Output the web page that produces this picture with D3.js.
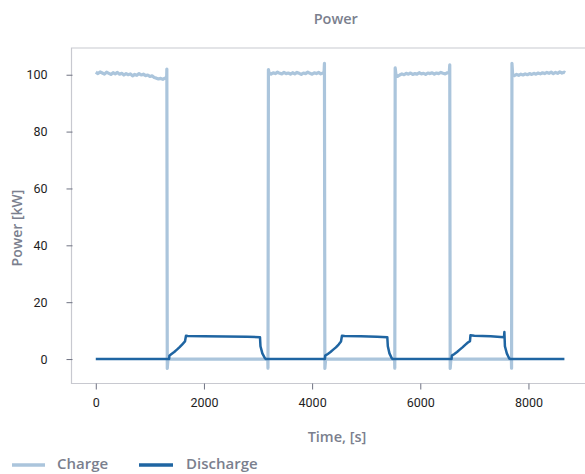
<!DOCTYPE html>
<html>
<head>
<meta charset="utf-8">
<script src="https://cdn.jsdelivr.net/npm/d3@7"></script>
<style>
  html, body { margin: 0; padding: 0; background: #fff; }
  svg { display: block; }
</style>
</head>
<body>
<svg id="chart" width="585" height="474"></svg>
<script>
// Charge power, kW, logged over time, s
const chargeTime = [
  0, 40, 80, 120, 160, 200, 240, 280, 320, 360, 400, 440, 480, 520, 560, 600, 640, 680, 720, 760,
  800, 840, 880, 920, 960, 1000, 1040, 1080, 1120, 1160, 1200, 1240, 1280, 1310,
  1314, 1322, 1335, 3180,
  3184, 3192, 3205, 3240, 3280, 3320, 3360, 3400, 3440, 3480, 3520, 3560, 3600, 3640, 3680, 3720,
  3760, 3800, 3840, 3880, 3920, 3960, 4000, 4040, 4080, 4120, 4160, 4200, 4220,
  4228, 4236, 4250, 5525,
  5529, 5536, 5550, 5580, 5620, 5660, 5700, 5740, 5780, 5820, 5860, 5900, 5940, 5980, 6020, 6060,
  6100, 6140, 6180, 6220, 6260, 6300, 6340, 6380, 6420, 6460, 6500, 6535,
  6545, 6553, 6567, 7684,
  7688, 7695, 7708, 7740, 7780, 7820, 7860, 7900, 7940, 7980, 8020, 8060, 8100, 8140, 8180, 8220,
  8260, 8300, 8340, 8380, 8420, 8460, 8500, 8540, 8580, 8620, 8660, 8680
];
const chargePower = [
  100.9, 100.4, 101.0, 100.6, 100.2, 100.9, 100.5, 100.1, 100.7, 100.3, 100.8, 100.2, 100.5, 99.9, 100.4, 100.0, 100.3, 99.6, 100.1, 99.8,
  100.4, 99.9, 100.2, 99.7, 99.9, 99.4, 99.6, 99.0, 98.8, 98.5, 98.7, 98.4, 98.8, 98.6,
  102.0, -3.3, 0, 0,
  -3.2, 101.8, 100.6, 100.2, 100.7, 100.4, 100.9, 100.5, 100.3, 100.8, 100.4, 100.6, 100.2, 100.7, 100.3, 100.8,
  100.5, 100.1, 100.6, 100.4, 100.9, 100.5, 100.2, 100.7, 100.4, 100.8, 100.3, 100.6, 100.5,
  104.0, -3.3, 0, 0,
  -3.2, 102.4, 100.1, 99.4, 99.9, 100.3, 100.0, 100.5, 100.2, 100.6, 100.1, 100.4, 100.2, 100.7, 100.3, 100.5,
  100.1, 100.6, 100.4, 100.7, 100.2, 100.6, 100.4, 100.8, 100.5, 100.3, 100.7, 100.5,
  103.5, -3.3, 0, 0,
  -3.2, 104.0, 100.0, 99.7, 100.1, 99.8, 100.2, 99.9, 100.3, 100.0, 100.4, 100.1, 100.5, 100.2, 100.6, 100.3,
  100.7, 100.4, 100.8, 100.5, 100.9, 100.4, 100.8, 100.5, 101.0, 100.6, 100.9, 100.7
];

// Discharge power, kW, logged over time, s
const dischargeTime = [
  0, 1355, 1362, 1400, 1450, 1500, 1550, 1600, 1649, 1668, 1700, 2000, 2400, 2800, 3036,
  3045, 3080, 3130, 3150, 4236,
  4242, 4290, 4340, 4390, 4440, 4490, 4534, 4552, 4600, 4900, 5200, 5390,
  5400, 5430, 5475, 5500, 6578,
  6584, 6630, 6680, 6730, 6780, 6830, 6880, 6919, 6928, 7000, 7300, 7548, 7555,
  7565, 7600, 7645, 7672, 8665
];
const dischargePower = [
  0, 0, 1.2, 1.8, 2.5, 3.3, 4.2, 5.2, 6.2, 8.2, 8.1, 8.0, 7.9, 7.8, 7.7,
  4.5, 2.0, 0.2, 0, 0,
  1.2, 1.8, 2.5, 3.3, 4.1, 5.1, 6.2, 8.2, 8.1, 8.0, 7.8, 7.7,
  4.5, 2.0, 0.2, 0, 0,
  1.2, 1.8, 2.5, 3.3, 4.1, 5.0, 5.8, 6.3, 8.4, 8.2, 8.0, 7.7, 9.5,
  4.5, 2.0, 0.2, 0, 0
];

const yTicks = [0, 20, 40, 60, 80, 100];
const xTicks = [0, 2000, 4000, 6000, 8000];

const seriesNames = ["Charge", "Discharge"];
const seriesColors = ["#abc5dc", "#1f65a2"];

const svg = d3.select("#chart");
const frame = { left: 71.5, right: 600, top: 48, bottom: 383.5 };

const x = d3.scaleLinear().domain([-449, 9323]).range([frame.left, frame.right]);
const y = d3.scaleLinear().domain([-8.6, 109.4]).range([frame.bottom, frame.top]);

const gray = "#7b7f8e";
const frameColor = "#c8c9d0";

// Plot frame (top, left, bottom edges)
svg.append("path")
  .attr("d", `M${frame.right},${frame.top}H${frame.left}V${frame.bottom}H${frame.right}`)
  .attr("fill", "none").attr("stroke", frameColor).attr("stroke-width", 1.2);

// Axes
const xAxis = svg.append("g")
  .attr("transform", `translate(0,${frame.bottom})`)
  .call(d3.axisBottom(x).tickValues(xTicks).tickFormat(d3.format("d")).tickSize(6).tickPadding(9));
const yAxis = svg.append("g")
  .attr("transform", `translate(${frame.left - 5},0)`)
  .call(d3.axisLeft(y).tickValues(yTicks).tickFormat(d3.format("d")).tickSize(6).tickPadding(13));
yAxis.selectAll(".tick line").attr("transform", "translate(6,0)");

[xAxis, yAxis].forEach(g => {
  g.select(".domain").remove();
  g.selectAll(".tick line").attr("stroke", "#6f7282").attr("stroke-width", 1);
  g.selectAll(".tick text")
    .attr("fill", "#1e1e1e")
    .style("font-family", "Roboto, 'DejaVu Sans', sans-serif")
    .style("font-size", "12.5px");
});

// Series lines
const clipId = "plot-clip";
svg.append("clipPath").attr("id", clipId)
  .append("rect")
  .attr("x", frame.left).attr("y", frame.top)
  .attr("width", frame.right - frame.left).attr("height", frame.bottom - frame.top);

const line = d3.line().x(d => x(d[0])).y(d => y(d[1]));
const chargeData = chargeTime.map((t, i) => [t, chargePower[i]]);
const dischargeData = dischargeTime.map((t, i) => [t, dischargePower[i]]);

const plot = svg.append("g").attr("clip-path", `url(#${clipId})`);
plot.append("path").datum(chargeData)
  .attr("d", line).attr("fill", "none")
  .attr("stroke", seriesColors[0]).attr("stroke-width", 3.2)
  .attr("stroke-linejoin", "round");
plot.append("path").datum(dischargeData)
  .attr("d", line).attr("fill", "none")
  .attr("stroke", seriesColors[1]).attr("stroke-width", 2.5)
  .attr("stroke-linejoin", "round");

// Titles
const labelFont = "'Open Sans', 'Noto Sans', sans-serif";
svg.append("text")
  .attr("x", (frame.left + frame.right) / 2).attr("y", 24)
  .attr("text-anchor", "middle").attr("fill", gray)
  .style("font-family", labelFont).style("font-weight", 600).style("font-size", "14.5px")
  .text("Power");
svg.append("text")
  .attr("x", 337).attr("y", 442)
  .attr("text-anchor", "middle").attr("fill", gray)
  .style("font-family", labelFont).style("font-weight", 600).style("font-size", "14.5px")
  .text("Time, [s]");
svg.append("text")
  .attr("transform", "translate(22,228) rotate(-90)")
  .attr("text-anchor", "middle").attr("fill", gray)
  .style("font-family", labelFont).style("font-weight", 600).style("font-size", "14px")
  .text("Power [kW]");

// Legend
const legendItems = [
  { name: seriesNames[0], color: seriesColors[0], x0: 12, x1: 45, tx: 57 },
  { name: seriesNames[1], color: seriesColors[1], x0: 139, x1: 173, tx: 186 }
];
const legend = svg.append("g");
legendItems.forEach(item => {
  legend.append("line")
    .attr("x1", item.x0).attr("x2", item.x1).attr("y1", 465).attr("y2", 465)
    .attr("stroke", item.color).attr("stroke-width", 3.5);
  legend.append("text")
    .attr("x", item.tx).attr("y", 469)
    .attr("fill", gray)
    .style("font-family", labelFont).style("font-weight", 600).style("font-size", "15px")
    .text(item.name);
});
</script>
</body>
</html>
